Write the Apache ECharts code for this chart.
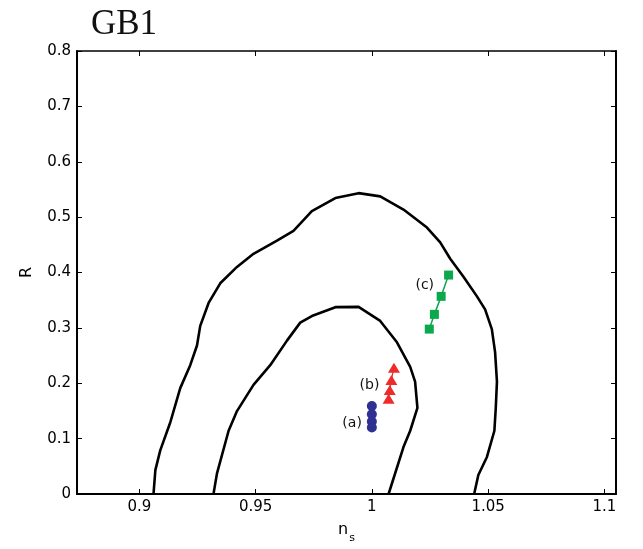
<!DOCTYPE html>
<html>
<head>
<meta charset="utf-8">
<title>GB1</title>
<script src="https://cdn.jsdelivr.net/npm/echarts@6/dist/echarts.min.js"></script>
<style>
  html, body { margin: 0; padding: 0; background: #fff; }
  #chart { width: 643px; height: 549px; }
</style>
</head>
<body>
<div id="chart"></div>
<script>
// Outer confidence contour (n_s, R)
const outerContour = [
  [0.9061, 0.0], [0.9069, 0.0431], [0.9090, 0.0787], [0.9133, 0.1291],
  [0.9176, 0.1912], [0.9219, 0.2326], [0.9248, 0.2681], [0.9262, 0.3036],
  [0.9298, 0.3450], [0.9348, 0.3805], [0.9420, 0.4101], [0.9491, 0.4338],
  [0.9592, 0.4576], [0.9663, 0.4753], [0.9742, 0.5108], [0.9843, 0.5344],
  [0.9943, 0.5433], [1.0036, 0.5375], [1.0136, 0.5137], [1.0237, 0.4812],
  [1.0294, 0.4545], [1.0337, 0.4249], [1.0394, 0.3924], [1.0452, 0.3569],
  [1.0487, 0.3333], [1.0516, 0.2978], [1.0530, 0.2562], [1.0538, 0.2029],
  [1.0533, 0.1557], [1.0527, 0.1142], [1.0495, 0.0669], [1.0458, 0.0343],
  [1.0440, 0.0]
];

// Inner confidence contour (n_s, R)
const innerContour = [
  [0.9319, 0.0], [0.9334, 0.0373], [0.9384, 0.1142], [0.9420, 0.1497],
  [0.9491, 0.1971], [0.9563, 0.2326], [0.9635, 0.2770], [0.9692, 0.3095],
  [0.9742, 0.3214], [0.9843, 0.3374], [0.9943, 0.3379], [1.0036, 0.3125],
  [1.0108, 0.2740], [1.0165, 0.2296], [1.0186, 0.2029], [1.0196, 0.1557],
  [1.0165, 0.1142], [1.0136, 0.0847], [1.0072, 0.0]
];

// Model predictions
const seriesA = [[1.0000, 0.159], [1.0000, 0.144], [1.0000, 0.131], [1.0000, 0.120]];
const seriesB = [[1.0095, 0.228], [1.0084, 0.206], [1.0077, 0.188], [1.0072, 0.172]];
const seriesC = [[1.0330, 0.3954], [1.0298, 0.3569], [1.0269, 0.3244], [1.0247, 0.2978]];

const labelA = '(a)';
const labelB = '(b)';
const labelC = '(c)';

// Axis ticks
const xTicks = [0.9, 0.95, 1, 1.05, 1.1];
const xMin = 0.8732, xMax = 1.105;
const yMin = 0, yMax = 0.8, yStep = 0.1;

const tickFont = { fontFamily: 'DejaVu Sans', fontSize: 15, color: '#000' };
const noteFont = { fontFamily: 'DejaVu Sans', fontSize: 14, color: '#111' };

function fmt(v) { return String(+(+v).toFixed(2)); }

function labelled(data, idx, text, offset, dist) {
  return data.map((p, i) => i === idx ? {
    value: p,
    label: { show: true, formatter: text, position: 'left', distance: dist, offset: offset, ...noteFont }
  } : { value: p });
}

const chart = echarts.init(document.getElementById('chart'), null, { renderer: 'canvas' });

chart.setOption({
  backgroundColor: '#fff',
  animation: false,
  title: {
    text: 'GB1',
    left: 86, top: 2,
    textStyle: { fontFamily: 'Liberation Serif', fontSize: 35, fontWeight: 'normal', color: '#111' }
  },
  grid: { left: 77, right: 27, top: 51, bottom: 48, containLabel: false },
  xAxis: [{
    type: 'value', position: 'bottom', min: xMin, max: xMax,
    name: '{n|n}{s|s}', nameLocation: 'middle', nameGap: 28,
    nameTextStyle: {
      rich: {
        n: { fontFamily: 'DejaVu Sans', fontSize: 16, color: '#000', verticalAlign: 'top' },
        s: { fontFamily: 'DejaVu Sans', fontSize: 11, color: '#000', padding: [11, 0, 0, 1] }
      }
    },
    axisLine: { show: true, onZero: false, lineStyle: { color: '#000', width: 2 } },
    axisTick: { show: true, inside: true, length: 5, customValues: xTicks, lineStyle: { color: '#000', width: 1 } },
    axisLabel: { show: true, customValues: xTicks, margin: 6, formatter: fmt, ...tickFont },
    splitLine: { show: false }
  }, {
    type: 'value', position: 'top', min: xMin, max: xMax,
    axisLine: { show: true, onZero: false, lineStyle: { color: '#000', width: 1.5 } },
    axisTick: { show: true, inside: true, length: 5, customValues: xTicks, lineStyle: { color: '#000', width: 1 } },
    axisLabel: { show: false },
    splitLine: { show: false }
  }],
  yAxis: [{
    type: 'value', position: 'left', min: yMin, max: yMax, interval: yStep,
    name: 'R', nameLocation: 'middle', nameGap: 42, nameRotate: 90,
    nameTextStyle: { fontFamily: 'DejaVu Sans', fontSize: 16, color: '#000' },
    axisLine: { show: true, onZero: false, lineStyle: { color: '#000', width: 2 } },
    axisTick: { show: true, inside: true, length: 5, lineStyle: { color: '#000', width: 1 } },
    axisLabel: { show: true, margin: 6, formatter: fmt, ...tickFont },
    splitLine: { show: false }
  }, {
    type: 'value', position: 'right', min: yMin, max: yMax, interval: yStep,
    axisLine: { show: true, onZero: false, lineStyle: { color: '#000', width: 2 } },
    axisTick: { show: true, inside: true, length: 5, lineStyle: { color: '#000', width: 1 } },
    axisLabel: { show: false },
    splitLine: { show: false }
  }],
  series: [
    {
      type: 'line', data: outerContour, showSymbol: false, symbol: 'none',
      lineStyle: { color: '#000', width: 2.6 }, z: 2, silent: true
    },
    {
      type: 'line', data: innerContour, showSymbol: false, symbol: 'none',
      lineStyle: { color: '#000', width: 2.6 }, z: 2, silent: true
    },
    {
      type: 'line', data: labelled(seriesA, 2, labelA, [0, 2], 5),
      symbol: 'circle', symbolSize: 10,
      itemStyle: { color: '#2E3192' }, lineStyle: { color: '#2E3192', width: 1.2 }, z: 5
    },
    {
      type: 'line', data: labelled(seriesB, 1, labelB, [0, 5], 6),
      symbol: 'triangle', symbolSize: [12, 10],
      itemStyle: { color: '#EE2B2B' }, lineStyle: { color: '#EE2B2B', width: 1.2 }, z: 5
    },
    {
      type: 'line', data: labelled(seriesC, 0, labelC, [-2, 10], 8),
      symbol: 'rect', symbolSize: 9,
      itemStyle: { color: '#0BA84E' }, lineStyle: { color: '#0BA84E', width: 1.5 }, z: 5
    }
  ]
});
</script>
</body>
</html>
